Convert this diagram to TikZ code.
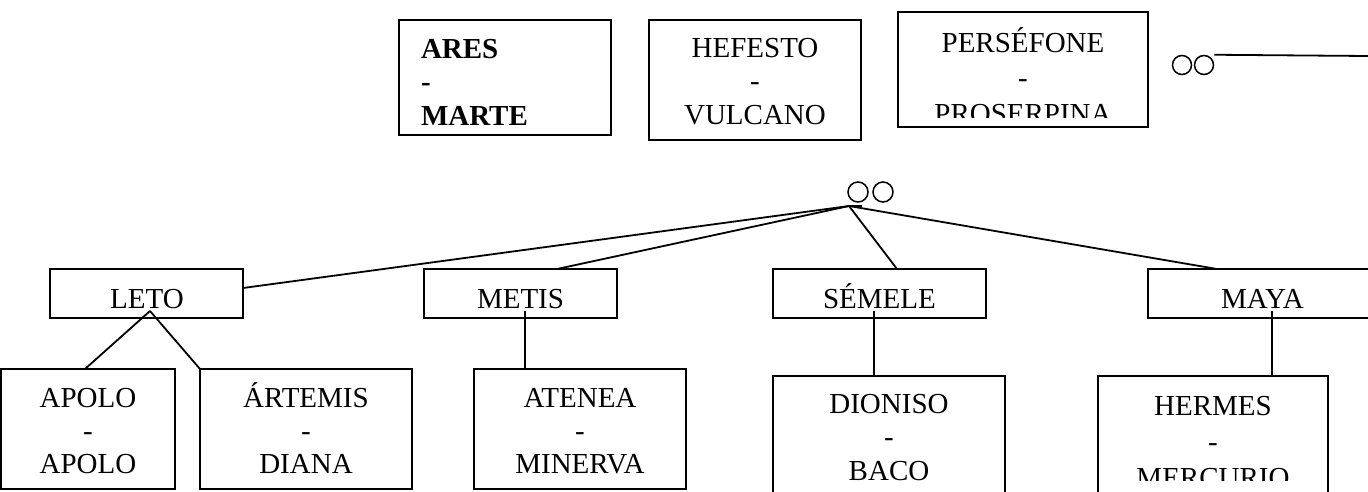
\documentclass[tikz,border=0pt]{standalone}
\usepackage{fontspec}
\setmainfont{Liberation Serif}
\usetikzlibrary{calc}
\begin{document}
\begin{tikzpicture}[x=1pt,y=-1pt,
  box/.style={draw,line width=2pt,inner sep=0pt,outer sep=0pt},
  txt/.style={inner sep=0pt,outer sep=0pt,font=\fontsize{29}{33}\selectfont,anchor=base},
  conn/.style={line width=1.8pt},
  ring/.style={draw,circle,line width=1.5pt,minimum size=19pt,inner sep=0pt}]
\useasboundingbox (0,0) rectangle (1368,491);
\clip (0,0) rectangle (1368,491);

% top row boxes
\node[box,minimum width=212pt,minimum height=115pt] (ares) at (505,77.5) {};
\node[box,minimum width=212pt,minimum height=120pt] (hefesto) at (755,80) {};
\node[box,minimum width=250pt,minimum height=115pt] (persefone) at (1023,69.5) {};

\node[txt,anchor=base west,font=\fontsize{29}{33}\selectfont\bfseries] (ares1) at (421,58) {ARES};
\node[txt,anchor=base west,font=\fontsize{29}{33}\selectfont\bfseries] (ares2) at (421,91.5) {-};
\node[txt,anchor=base west,font=\fontsize{29}{33}\selectfont\bfseries] (ares3) at (421,125) {MARTE};

\node[txt] (hef1) at (755,57) {HEFESTO};
\node[txt] (hef2) at (755,90.5) {-};
\node[txt] (hef3) at (755,124) {VULCANO};

\node[txt] (per1) at (1023,52) {PERSÉFONE};
\node[txt] (per2) at (1023,87.5) {-};
\begin{scope}
  \clip (898,12) rectangle (1148,117);
  \node[txt] (per3) at (1023,123) {PROSERPINA};
\end{scope}

% top-right rings and line
\node[ring] (oo1) at (1182,65) {};
\node[ring] (oo2) at (1204,65) {};
\coordinate (topend) at (1368,56);
\draw[conn] (oo2.east |- oo2.north) -- (topend);

% middle rings and hub
\node[ring,minimum size=20pt] (mo1) at (858,192) {};
\node[ring,minimum size=20pt] (mo2) at (883,192) {};
\coordinate (hub) at (849,206);
\coordinate (hubr) at (862,206);

% middle row boxes
\node[box,minimum width=193pt,minimum height=49pt] (leto) at (146.5,293.5) {};
\node[box,minimum width=193pt,minimum height=49pt] (metis) at (520.5,293.5) {};
\node[box,minimum width=213pt,minimum height=49pt] (semele) at (879.5,293.5) {};
\node[box,minimum width=229pt,minimum height=49pt] (maya) at (1262.5,293.5) {};

\node[txt] (letot) at (147,308) {LETO};
\node[txt] (metist) at (520.5,308) {METIS};
\node[txt] (semelet) at (879.5,308) {SÉMELE};
\node[txt] (mayat) at (1262.5,308) {MAYA};

% bottom row boxes
\node[box,minimum width=174pt,minimum height=120pt] (apolo) at (88,429) {};
\node[box,minimum width=212pt,minimum height=120pt] (artemis) at (306,429) {};
\node[box,minimum width=212pt,minimum height=120pt] (atenea) at (580,429) {};
\node[box,minimum width=232pt,minimum height=164pt] (dioniso) at (889,458) {};
\node[box,minimum width=230pt,minimum height=164pt] (hermes) at (1213,458) {};

\node[txt] (apo1) at (88,407) {APOLO};
\node[txt] (apo2) at (88,440) {-};
\node[txt] (apo3) at (88,473) {APOLO};

\node[txt] (art1) at (306,407) {ÁRTEMIS};
\node[txt] (art2) at (306,440) {-};
\node[txt] (art3) at (306,473) {DIANA};

\node[txt] (ate1) at (580,407) {ATENEA};
\node[txt] (ate2) at (580,440) {-};
\node[txt] (ate3) at (580,473) {MINERVA};

\node[txt] (dio1) at (889,413) {DIONISO};
\node[txt] (dio2) at (889,446.5) {-};
\node[txt] (dio3) at (889,480) {BACO};

\node[txt] (her1) at (1213,415) {HERMES};
\node[txt] (her2) at (1213,451) {-};
\begin{scope}
  \clip (1098,376) rectangle (1328,480);
  \node[txt] (her3) at (1213,487) {MERCURIO};
\end{scope}

% connectors from hub
\draw[conn] (hub) -- ([yshift=5.5pt]leto.east);
\draw[conn] (hub) -- ([xshift=36.5pt]metis.north);
\draw[conn] (hub) -- ([xshift=17.5pt]semele.north);
\draw[conn] (hub) -- ([xshift=-45.5pt]maya.north);
\draw[conn] (hub) -- (hubr);

% children connectors
\coordinate (letoj) at (150,311);
\draw[conn] (letoj) -- ([xshift=-3pt]apolo.north);
\draw[conn] (letoj) -- (artemis.north west);

\coordinate (metisj) at (525,311);
\draw[conn] (metisj) -- (metisj |- atenea.north);

\coordinate (semelej) at (874,311);
\draw[conn] (semelej) -- (semelej |- dioniso.north);

\coordinate (mayaj) at (1272,311);
\draw[conn] (mayaj) -- (mayaj |- hermes.north);
\end{tikzpicture}
\end{document}
